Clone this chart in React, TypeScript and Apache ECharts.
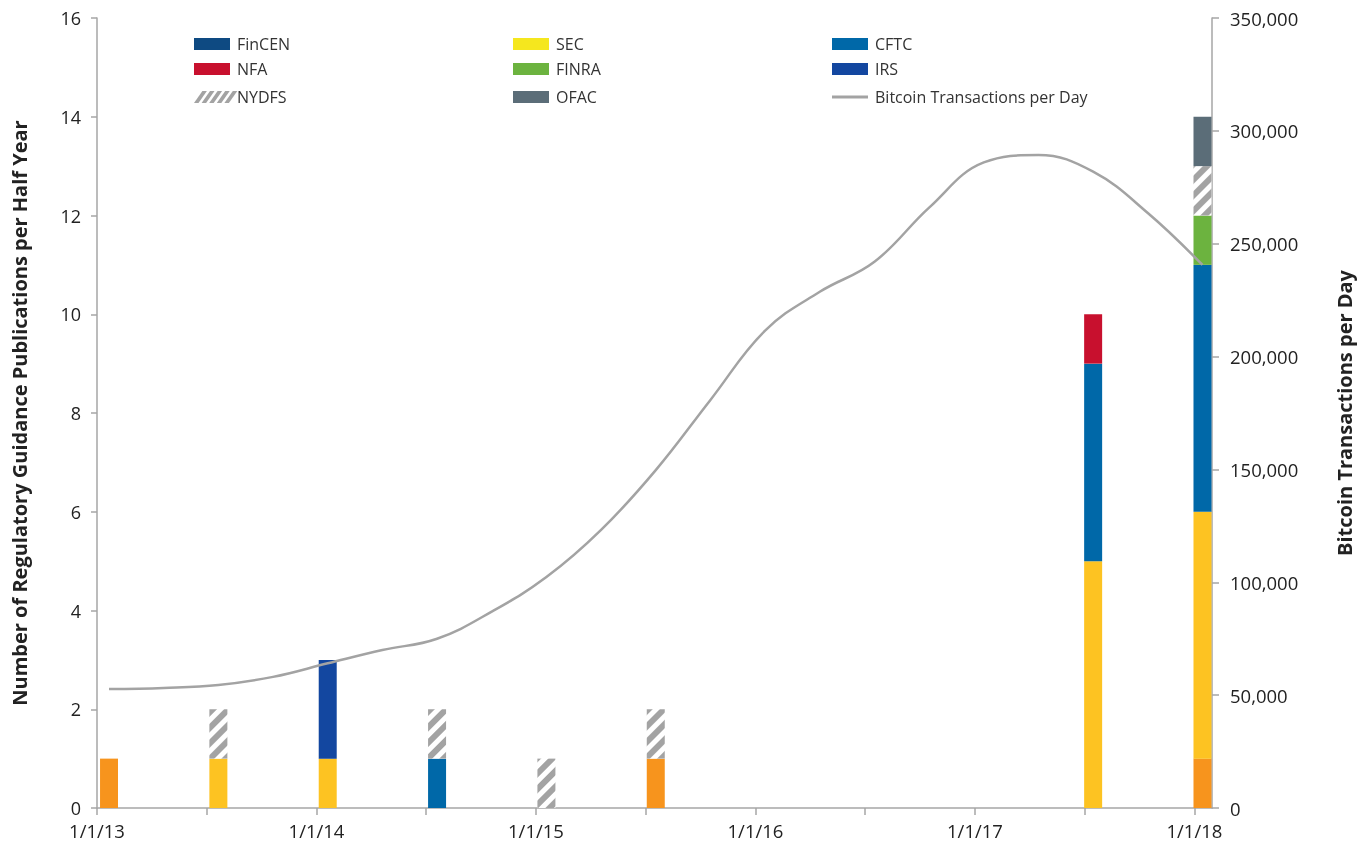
import React, { useEffect, useRef } from "react";
import * as echarts from "echarts";

// Half-year periods (index 0 = H1 2013 ... 10 = H1 2018)
const periods = ["H1 2013", "H2 2013", "H1 2014", "H2 2014", "H1 2015", "H2 2015", "H1 2016", "H2 2016", "H1 2017", "H2 2017", "H1 2018"];
const yearLabels = ["1/1/13", "1/1/14", "1/1/15", "1/1/16", "1/1/17", "1/1/18"];

// Regulatory guidance publications per half year
const finCEN = [1, 0, 0, 0, 0, 1, 0, 0, 0, 0, 1];
const sec = [0, 1, 1, 0, 0, 0, 0, 0, 0, 5, 5];
const cftc = [0, 0, 0, 1, 0, 0, 0, 0, 0, 4, 5];
const irs = [0, 0, 2, 0, 0, 0, 0, 0, 0, 0, 0];
const nfa = [0, 0, 0, 0, 0, 0, 0, 0, 0, 1, 0];
const finra = [0, 0, 0, 0, 0, 0, 0, 0, 0, 0, 1];
const nydfs = [0, 1, 0, 1, 1, 1, 0, 0, 0, 0, 1];
const ofac = [0, 0, 0, 0, 0, 0, 0, 0, 0, 0, 1];

// Bitcoin transactions per day, read at quarter-year steps (period index)
const btcPos = [0, 0.5, 1, 1.5, 2, 2.5, 3, 3.5, 4, 4.5, 5, 5.5, 6, 6.5, 7, 7.5, 8, 8.5, 9, 9.5, 10];
const btcTx = [52700, 53200, 54500, 58100, 64100, 70000, 75000, 87000, 102300, 123200, 149700, 180800, 211500, 228700, 242000, 266000, 286000, 289300, 281900, 263600, 240600];

const FONT = "'Open Sans', 'Noto Sans', sans-serif";
const TEXT = "#222222";
const AXIS = "#A6A6A6";
const STRIPE = "#A3A3A3";

type Entry = { name: string; data: number[]; bar: string; legend: string; hatch?: boolean };
const entries: Entry[] = [
  { name: "FinCEN", data: finCEN, bar: "#F7941D", legend: "#0E4A82" },
  { name: "SEC", data: sec, bar: "#FDC322", legend: "#F5E71E" },
  { name: "CFTC", data: cftc, bar: "#0068A8", legend: "#0068A8" },
  { name: "IRS", data: irs, bar: "#1347A0", legend: "#1347A0" },
  { name: "NFA", data: nfa, bar: "#C8102E", legend: "#C8102E" },
  { name: "FINRA", data: finra, bar: "#6CB33F", legend: "#6CB33F" },
  { name: "NYDFS", data: nydfs, bar: "#FFFFFF", legend: "#FFFFFF", hatch: true },
  { name: "OFAC", data: ofac, bar: "#5B6D78", legend: "#5B6D78" },
];

// legend layout: [name, column, row]
const legendLayout: [string, number, number][] = [
  ["FinCEN", 0, 0], ["NFA", 0, 1], ["NYDFS", 0, 2],
  ["SEC", 1, 0], ["FINRA", 1, 1], ["OFAC", 1, 2],
  ["CFTC", 2, 0], ["IRS", 2, 1], ["Bitcoin Transactions per Day", 2, 2],
];

function buildLegend() {
  const colX = [194, 513, 832];
  const rowY = [44, 69, 97];
  const iconW = 36;
  const iconH = 12;
  const els: any[] = [];
  legendLayout.forEach(([name, c, r]) => {
    const x = colX[c];
    const y = rowY[r];
    const e = entries.find((en) => en.name === name);
    if (!e) {
      els.push({ type: "line", shape: { x1: x, y1: y, x2: x + iconW, y2: y }, style: { stroke: STRIPE, lineWidth: 3 } });
    } else if (e.hatch) {
      for (let i = 0; i < 5; i++) {
        const x0 = x + i * 7.6;
        els.push({
          type: "polygon",
          shape: { points: [[x0, y + iconH / 2], [x0 + 4.5, y + iconH / 2], [x0 + 4.5 + iconH * 0.7, y - iconH / 2], [x0 + iconH * 0.7, y - iconH / 2]] },
          style: { fill: STRIPE },
        });
      }
    } else {
      els.push({ type: "rect", shape: { x, y: y - iconH / 2, width: iconW, height: iconH }, style: { fill: e.legend } });
    }
    els.push({
      type: "text",
      x: x + iconW + 7,
      y,
      style: { text: name, fill: "#333333", font: `16px ${FONT}`, verticalAlign: "middle" },
    });
  });
  return els;
}

export default function App() {
  const ref = useRef<HTMLDivElement>(null);
  useEffect(() => {
    if (!ref.current) return;
    const chart = echarts.init(ref.current, undefined, { renderer: "svg" });
    const xIdx = periods.map((_, i) => i);
    const barSeries = entries.map((e) => ({
      name: e.name,
      type: "bar",
      stack: "pubs",
      xAxisIndex: 1,
      yAxisIndex: 0,
      barWidth: 18,
      // value first so that the value dimension is the stacked one
      encode: { x: 1, y: 0 },
      data: xIdx.map((i) => [e.data[i], i]),
      itemStyle: e.hatch
        ? {
            color: "#FFFFFF",
            decal: {
              symbol: "rect",
              symbolSize: 1,
              dashArrayX: [1, 0],
              dashArrayY: [6, 5],
              rotation: -Math.PI / 4,
              color: STRIPE,
              backgroundColor: "#FFFFFF",
            },
          }
        : { color: e.bar },
      emphasis: { disabled: true },
    }));

    const option: any = {
      animation: false,
      textStyle: { fontFamily: FONT },
      grid: { left: 97, right: 156, top: 18, bottom: 43, containLabel: false },
      xAxis: [
        {
          type: "value",
          min: 0,
          max: 10.16,
          interval: 1,
          splitLine: { show: false },
          axisLine: { show: true, onZero: false, lineStyle: { color: AXIS, width: 1.5 } },
          axisTick: { show: true, length: 7, lineStyle: { color: AXIS, width: 1.5 }, customValues: xIdx },
          axisLabel: {
            color: TEXT,
            fontSize: 18.5,
            fontFamily: FONT,
            margin: 13,
            customValues: [0, 2, 4, 6, 8, 10],
            formatter: (v: number) => yearLabels[Math.round(v / 2)] ?? "",
          },
        },
        {
          type: "value",
          min: -0.11,
          max: 10.087,
          show: false,
          position: "bottom",
          splitLine: { show: false },
        },
      ],
      yAxis: [
        {
          type: "value",
          min: 0,
          max: 16,
          interval: 2,
          position: "left",
          name: "Number of Regulatory Guidance Publications per Half Year",
          nameLocation: "middle",
          nameGap: 68,
          nameTextStyle: { color: TEXT, fontSize: 20, fontWeight: "bold", fontFamily: FONT },
          splitLine: { show: false },
          axisLine: { show: true, onZero: false, lineStyle: { color: AXIS, width: 1.5 } },
          axisTick: { show: true, length: 6, lineStyle: { color: AXIS, width: 1.5 } },
          axisLabel: { color: TEXT, fontSize: 18, fontFamily: FONT, margin: 16 },
        },
        {
          type: "value",
          min: 0,
          max: 350000,
          interval: 50000,
          position: "right",
          name: "Bitcoin Transactions per Day",
          nameLocation: "middle",
          nameRotate: 90,
          nameGap: 122,
          nameTextStyle: { color: TEXT, fontSize: 20, fontWeight: "bold", fontFamily: FONT },
          splitLine: { show: false },
          axisLine: { show: true, onZero: false, lineStyle: { color: AXIS, width: 1.5 } },
          axisTick: { show: true, length: 7, lineStyle: { color: AXIS, width: 1.5 } },
          axisLabel: {
            color: TEXT,
            fontSize: 18.5,
            fontFamily: FONT,
            margin: 18,
            formatter: (v: number) => v.toLocaleString("en-US"),
          },
        },
      ],
      series: [
        ...barSeries,
        {
          name: "Bitcoin Transactions per Day",
          type: "line",
          xAxisIndex: 1,
          yAxisIndex: 1,
          smooth: 0.4,
          symbol: "none",
          data: btcPos.map((p, i) => [p, btcTx[i]]),
          lineStyle: { color: STRIPE, width: 2.5 },
          z: 5,
          emphasis: { disabled: true },
        },
      ],
      graphic: buildLegend(),
    };
    chart.setOption(option);
    return () => chart.dispose();
  }, []);
  return <div ref={ref} style={{ position: "fixed", left: 0, top: 0, width: 1368, height: 851 }} />;
}
